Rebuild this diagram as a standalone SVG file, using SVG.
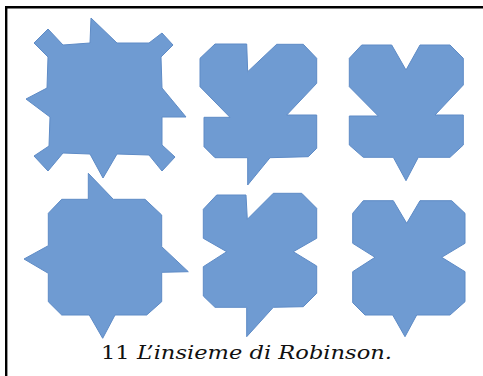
<svg xmlns="http://www.w3.org/2000/svg" width="483" height="376" viewBox="0 0 483 376">
<style>
.tile{fill:#6f9bd2;stroke:#5e8bc6;stroke-width:1;stroke-linejoin:miter}
.frame{fill:none;stroke:#000;stroke-width:2.4}
.cap{font-family:"DejaVu Serif","Liberation Serif",serif;font-size:19px;fill:#111}
</style>
<rect width="483" height="376" fill="#fff"/>
<path class="frame" d="M6.2,376 V7.2 H483"/>
<g id="tile-1">
<polygon class="tile" points="63,45 90,43 91,18 117,43 149,43 162,33 173,45 161,57 162,88 186,117 162,117 162,145 175,157 162,171 149,155 117,154 103,178 90,154 63,153 48,171 34,156 49,146 50,117 26,99 47,88 48,57 34,43 48,29"/>
</g>
<g id="tile-2">
<polygon class="tile" points="215,44 246.7,44 247.7,71.7 276.7,44.3 303.3,44.3 316.7,58.3 316.7,83.3 286.7,115 316.7,115 316.7,148.3 308.3,156.7 270,157.7 247.7,185 247.7,157.7 215,157.7 204,146.7 204,117.3 230,117.3 200,86.7 200,58.3"/>
</g>
<g id="tile-3">
<polygon class="tile" points="361.7,45 391.7,45 406,70 420,45 450,45 463.3,58.3 463.3,85 435,115 463.3,115 463.3,145 450,157.3 418.3,157.3 406,180.7 393.3,157.3 363.3,157.3 349.3,145 349.3,116 378.3,116 349.3,86.7 349.3,58.3"/>
</g>
<g id="tile-4">
<polygon class="tile" points="61.7,199.3 88.3,199.3 88.3,173.3 113.3,199.3 145,199.3 161.7,215 161.7,246.7 188.3,271.7 161.7,272.3 161.7,301.7 146.7,315 115,315 102.7,338.3 89.3,315 61.7,315 48.3,301.7 48.3,273.3 24,259 48.3,245.7 48.3,213.3"/>
</g>
<g id="tile-5">
<polygon class="tile" points="216.7,195 246,195 247.3,219.3 273.3,193.3 301.7,193.3 316.7,208.3 316.7,238.3 293.3,251.7 316.7,266 316.7,293.3 303.3,306.7 273.3,307.3 246.7,336.7 246.7,307.3 215,307.3 203.3,296 203.3,266.7 226.7,251.7 203.3,238.3 203.3,209.3"/>
</g>
<g id="tile-6">
<polygon class="tile" points="363.3,200.7 393.3,200.7 406.7,223.3 420,200.7 451.7,200.7 465,213.3 465,243.3 441.7,257.3 465,271.7 465,301.7 450,315 416.7,315 405,336.7 392.7,315 365,315 352.7,302.7 352.7,271.7 375,257.3 352.7,243.3 352.7,213.3"/>
</g>
<g id="connectors"/>
<text id="caption" class="cap" x="101" y="359" textLength="291" lengthAdjust="spacingAndGlyphs">11 <tspan font-style="italic">L’insieme di Robinson.</tspan></text>
</svg>
